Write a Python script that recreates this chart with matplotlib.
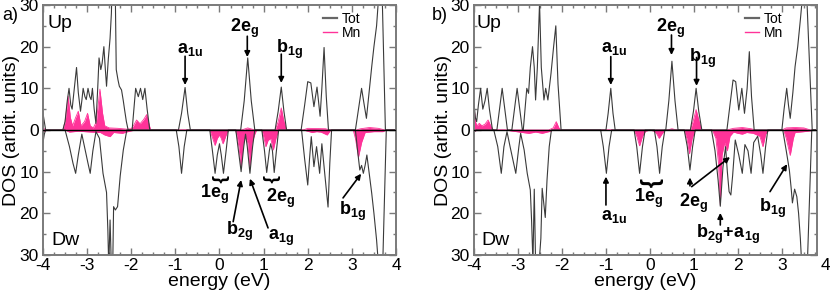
import matplotlib
matplotlib.use("Agg")
import matplotlib.pyplot as plt
from matplotlib.lines import Line2D
from matplotlib.ticker import MultipleLocator, FuncFormatter

plt.rcParams['font.family'] = ['Liberation Sans', 'DejaVu Sans']
plt.rcParams['mathtext.fontset'] = 'custom'
plt.rcParams['mathtext.rm'] = 'Liberation Sans'
plt.rcParams['mathtext.bf'] = 'Liberation Sans:bold'
plt.rcParams['mathtext.it'] = 'Liberation Sans:italic'
plt.rcParams['axes.unicode_minus'] = False

# ---- panel a) : (energy eV, DOS) ----
a_tot_up = [(-4.0, 4), (-3.97, 2), (-3.94, 0), (-3.55, 0), (-3.5, 2), (-3.45, 7), (-3.41, 10),
            (-3.37, 6), (-3.34, 5), (-3.29, 10), (-3.24, 15), (-3.2, 9), (-3.15, 4.5), (-3.12, 7),
            (-3.09, 10), (-3.05, 8), (-3.02, 7.3), (-2.98, 10), (-2.94, 8), (-2.91, 7.3), (-2.88, 10),
            (-2.84, 5), (-2.8, 1.6), (-2.76, 10), (-2.73, 17.3), (-2.69, 14.5), (-2.66, 16), (-2.62, 20),
            (-2.59, 15), (-2.56, 10.5), (-2.52, 17), (-2.48, 22), (-2.45, 28), (-2.42, 40), (-2.37, 40),
            (-2.34, 14.5), (-2.3, 12), (-2.27, 10.5), (-2.22, 9.6), (-2.18, 7), (-2.15, 4.8), (-2.11, 2),
            (-2.07, 0), (-1.98, 0), (-1.94, 5), (-1.9, 10), (-1.84, 8), (-1.79, 10), (-1.74, 7.3),
            (-1.69, 10), (-1.64, 5), (-1.58, 0), (-0.93, 0), (-0.86, 4), (-0.78, 10.2), (-0.72, 4),
            (-0.66, 0), (0.48, 0), (0.56, 7), (0.64, 17.3), (0.72, 7), (0.8, 0), (1.26, 0), (1.33, 4.5),
            (1.4, 10.3), (1.46, 4.5), (1.52, 0), (1.85, 0), (1.93, 6), (2.0, 11.6), (2.07, 11.3),
            (2.14, 5.6), (2.21, 10.3), (2.28, 3.3), (2.32, 10), (2.37, 19.8), (2.42, 8), (2.47, 0),
            (3.08, 0), (3.15, 5), (3.22, 10), (3.28, 6), (3.33, 2.8), (3.39, 9), (3.45, 15.2), (3.5, 20),
            (3.56, 25), (3.6, 31), (3.64, 40), (3.69, 31), (3.76, 0), (4.0, 0)]
a_tot_dw = [(-4.0, 3), (-3.97, 1), (-3.94, 0), (-3.5, 0), (-3.4, 4), (-3.32, 8), (-3.26, 10.4),
            (-3.2, 6), (-3.12, 1), (-3.06, 4), (-2.98, 8), (-2.93, 10.4), (-2.87, 5), (-2.8, 0.4),
            (-2.72, 2), (-2.64, 10.4), (-2.56, 15), (-2.53, 24), (-2.51, 33), (-2.48, 21.6), (-2.45, 33),
            (-2.42, 33), (-2.4, 18.4), (-2.36, 19.2), (-2.31, 18.4), (-2.25, 11), (-2.18, 4.8), (-2.1, 0),
            (-0.98, 0), (-0.92, 4), (-0.86, 10.4), (-0.8, 4), (-0.74, 0), (-0.22, 0), (-0.16, 5),
            (-0.1, 10.4), (-0.05, 6), (0.0, 3.3), (0.04, 6), (0.09, 10.4), (0.15, 5), (0.2, 0),
            (0.37, 0), (0.43, 5), (0.49, 10), (0.55, 4), (0.59, 1), (0.63, 4), (0.69, 10.4), (0.75, 4),
            (0.8, 0), (0.96, 0), (1.02, 5), (1.07, 10.2), (1.13, 5), (1.16, 3.3), (1.2, 5), (1.24, 10.2),
            (1.29, 5), (1.34, 0), (1.86, 0), (1.93, 7), (2.0, 13.2), (2.04, 7), (2.08, 1.6), (2.14, 8.8),
            (2.2, 4), (2.27, 10.4), (2.32, 3.3), (2.39, 11), (2.46, 18.5), (2.5, 8), (2.54, 0),
            (3.08, 0), (3.13, 5), (3.18, 9.6), (3.22, 8.5), (3.26, 10.4), (3.3, 8.5), (3.34, 6),
            (3.4, 11), (3.45, 15.2), (3.5, 20), (3.56, 26.4), (3.6, 32), (3.7, 32), (3.78, 0), (4.0, 0)]
a_mn_up = [(-4.0, 0.4), (-3.9, 0), (-3.55, 0), (-3.5, 2), (-3.43, 8.1), (-3.38, 3), (-3.33, 1),
           (-3.26, 3), (-3.2, 4.5), (-3.14, 1), (-3.06, 2), (-2.99, 4), (-2.93, 1), (-2.86, 0.5),
           (-2.79, 2), (-2.71, 9.8), (-2.65, 4), (-2.6, 1), (-2.5, 0.5), (-2.3, 0.4), (-2.1, 0.2),
           (-2.0, 0.3), (-1.94, 1.2), (-1.88, 2.4), (-1.8, 1.5), (-1.72, 2.5), (-1.65, 3.7), (-1.6, 1.5),
           (-1.56, 0), (0.5, 0), (0.64, 0.5), (0.8, 0), (1.26, 0), (1.33, 2), (1.4, 5.3), (1.46, 2),
           (1.52, 0), (1.9, 0), (2.0, 0.4), (2.4, 0.3), (2.5, 0), (3.1, 0), (3.2, 0.3), (3.4, 0.6),
           (3.6, 0.4), (3.75, 0), (4.0, 0)]
a_mn_dw = [(-4.0, 0.4), (-3.9, 0), (-3.5, 0), (-3.4, 0.5), (-3.2, 0.3), (-2.9, 0.5), (-2.7, 0.6),
           (-2.6, 1.2), (-2.48, 1.6), (-2.4, 0.6), (-2.2, 0.8), (-2.05, 0.3), (-1.9, 0), (-0.22, 0),
           (-0.17, 1.5), (-0.1, 3.7), (-0.05, 2), (0.0, 1.2), (0.04, 2), (0.08, 3.3), (0.14, 1.5),
           (0.2, 0), (0.36, 0), (0.4, 1.5), (0.44, 4), (0.49, 8.8), (0.54, 3), (0.59, 1.5), (0.64, 3),
           (0.69, 8.8), (0.74, 3), (0.8, 1), (0.84, 0), (0.96, 0), (1.0, 1.5), (1.05, 4), (1.1, 2.5),
           (1.16, 2), (1.22, 4.8), (1.28, 2), (1.34, 0), (1.9, 0), (2.0, 0.3), (2.1, 0.6), (2.2, 0.4),
           (2.3, 0.5), (2.44, 1.2), (2.52, 0), (3.03, 0), (3.08, 2), (3.15, 6.5), (3.22, 3), (3.3, 0.6),
           (3.5, 0.4), (3.7, 0.4), (3.78, 0), (4.0, 0)]

# ---- panel b) ----
b_tot_up = [(-4.0, 6.4), (-3.97, 3), (-3.94, 2), (-3.9, 6), (-3.85, 10), (-3.8, 5), (-3.75, 7),
            (-3.7, 10), (-3.65, 5), (-3.58, 0), (-3.48, 0), (-3.42, 5), (-3.36, 10), (-3.3, 5),
            (-3.24, 0), (-3.14, 0), (-3.08, 5), (-3.02, 10), (-2.96, 5), (-2.9, 0), (-2.88, 0),
            (-2.84, 5), (-2.8, 10), (-2.76, 8.8), (-2.72, 15), (-2.67, 20), (-2.63, 15), (-2.6, 7.2),
            (-2.56, 15), (-2.51, 30.5), (-2.47, 15), (-2.41, 7.2), (-2.37, 10), (-2.32, 7.2),
            (-2.25, 13.5), (-2.19, 20), (-2.14, 25), (-2.09, 11), (-2.02, 0), (-1.0, 0), (-0.95, 4),
            (-0.89, 10), (-0.84, 4), (-0.79, 0), (0.36, 0), (0.43, 7), (0.5, 16.5), (0.57, 7),
            (0.64, 0), (0.92, 0), (0.99, 4.5), (1.05, 10), (1.11, 4.5), (1.18, 0), (1.75, 0),
            (1.82, 6), (1.89, 12), (1.95, 11.6), (2.02, 4.8), (2.09, 10), (2.15, 4), (2.21, 10),
            (2.26, 18.8), (2.31, 8), (2.37, 0), (3.0, 0), (3.05, 5), (3.11, 10), (3.15, 6),
            (3.19, 2.8), (3.25, 9), (3.3, 15.2), (3.36, 20), (3.42, 26.4), (3.46, 31), (3.51, 40),
            (3.57, 31), (3.69, 0), (3.8, 0)]
b_tot_dw = [(-4.0, 0.5), (-3.95, 0), (-3.55, 0), (-3.46, 4), (-3.38, 10.4), (-3.32, 4), (-3.25, 0.4),
            (-3.18, 4), (-3.05, 10.4), (-2.98, 4), (-2.94, 0.8), (-2.86, 4.8), (-2.79, 10.4),
            (-2.72, 14.4), (-2.69, 22), (-2.66, 32), (-2.63, 14.2), (-2.6, 32), (-2.52, 32),
            (-2.48, 26), (-2.45, 14), (-2.41, 18), (-2.38, 21), (-2.34, 12), (-2.29, 4), (-2.24, 0),
            (-1.12, 0), (-1.06, 4), (-0.99, 10.4), (-0.93, 4), (-0.87, 0), (-0.36, 0), (-0.3, 4),
            (-0.235, 10.4), (-0.17, 4), (-0.11, 0), (0.1, 0), (0.16, 4), (0.22, 10.4), (0.28, 4),
            (0.34, 0), (0.78, 0), (0.85, 4), (0.91, 9.6), (0.97, 4), (1.03, 0), (1.4, 0), (1.48, 5),
            (1.55, 12), (1.6, 18.3), (1.66, 9), (1.72, 4), (1.76, 10), (1.8, 14.8), (1.84, 15.6),
            (1.88, 11), (1.94, 2.4), (2.02, 6), (2.1, 10.4), (2.16, 3.5), (2.23, 5), (2.3, 10.4),
            (2.36, 3), (2.45, 1.5), (2.52, 6), (2.57, 10.4), (2.63, 4), (2.68, 0), (3.02, 0),
            (3.1, 5), (3.17, 9.6), (3.21, 13.8), (3.24, 17.5), (3.29, 14.2), (3.34, 16), (3.38, 20),
            (3.42, 26), (3.45, 32), (3.58, 32), (3.68, 0), (3.8, 0)]
b_mn_up = [(-4.0, 6), (-3.97, 2), (-3.93, 1), (-3.88, 1.6), (-3.82, 1), (-3.75, 1.4), (-3.68, 2.4),
           (-3.62, 1), (-3.56, 0), (-2.3, 0), (-2.2, 0.5), (-2.13, 2), (-2.07, 0.5), (-2.02, 0),
           (0.4, 0), (0.5, 0.3), (0.6, 0), (0.92, 0), (0.98, 2), (1.05, 4.9), (1.12, 2), (1.18, 0),
           (1.75, 0), (1.9, 0.4), (2.1, 0.6), (2.3, 0.3), (2.4, 0), (3.0, 0), (3.1, 0.5), (3.3, 0.6),
           (3.5, 0.5), (3.65, 0), (3.8, 0)]
b_mn_dw = [(-4.0, 0.3), (-3.9, 0), (-3.3, 0), (-3.1, 0.3), (-2.9, 0.6), (-2.75, 0.8), (-2.6, 0.5),
           (-2.45, 0.8), (-2.3, 0.4), (-2.2, 0), (-0.36, 0), (-0.3, 1.5), (-0.235, 3.8), (-0.17, 1.5),
           (-0.1, 0.3), (0.0, 0), (0.1, 0.3), (0.16, 1), (0.21, 2), (0.27, 1), (0.34, 0), (0.78, 0),
           (0.84, 2), (0.9, 5.7), (0.96, 2), (1.03, 0), (1.42, 0), (1.5, 2), (1.56, 8), (1.6, 18),
           (1.64, 6), (1.7, 3), (1.76, 5), (1.82, 1.5), (1.9, 0.5), (2.0, 0.8), (2.1, 1), (2.2, 0.6),
           (2.35, 0.8), (2.5, 1.5), (2.57, 4), (2.63, 1), (2.7, 0), (3.04, 0), (3.1, 2), (3.19, 6.1),
           (3.26, 2), (3.3, 0.6), (3.5, 0.4), (3.65, 0.2), (3.72, 0), (3.8, 0)]

# labels: (text, x, y) ; arrows: (tail, head) ; braces: (x, y, size)
a_labels = [(r'$\mathbf{a_{1u}}$', -0.96, 18.5), (r'$\mathbf{2e_g}$', 0.24, 23.5),
            (r'$\mathbf{b_{1g}}$', 1.28, 18.5), (r'$\mathbf{1e_g}$', -0.44, -16.3),
            (r'$\mathbf{2e_g}$', 1.06, -17.3), (r'$\mathbf{b_{2g}}$', 0.15, -25.2),
            (r'$\mathbf{a_{1g}}$', 1.10, -26.4), (r'$\mathbf{b_{1g}}$', 2.71, -20.4)]
a_arrows = [((-0.78, 17.7), (-0.78, 10.8)), ((0.63, 22.5), (0.63, 17.5)), ((1.4, 18.2), (1.4, 11.3)),
            ((0.31, -22), (0.49, -12)), ((1.1, -23.5), (0.69, -11.7)), ((2.8, -16.3), (3.21, -10.5))]
a_braces = [(0.0, -11.8, 14), (1.15, -11.8, 14)]

b_labels = [(r'$\mathbf{a_{1u}}$', -1.12, 18.7), (r'$\mathbf{2e_g}$', 0.13, 23.5),
            (r'$\mathbf{b_{1g}}$', 0.89, 16.3), (r'$\mathbf{a_{1u}}$', -1.12, -21.6),
            (r'$\mathbf{1e_g}$', -0.36, -17.2), (r'$\mathbf{2e_g}$', 0.66, -18.4),
            (r'$\mathbf{b_{2g}\!+\!a_{1g}}$', 1.04, -25.9), (r'$\mathbf{b_{1g}}$', 2.48, -19.6)]
b_arrows = [((-0.89, 17.6), (-0.89, 10.8)), ((0.49, 22.8), (0.49, 18)), ((1.06, 17.4), (1.06, 10.6)),
            ((-1.0, -18), (-1.0, -11.2)), ((0.91, -13.4), (0.91, -11.4)), ((0.95, -13.6), (1.82, -6.5)),
            ((1.6, -22.8), (1.6, -19.9)), ((2.73, -14.8), (3.12, -8.2))]
b_braces = [(0.0, -12.6, 17)]

TOT_C = '#3a3a3a'
MN_C = '#ff3399'
FRAME_C = '#7a7a7a'


def draw_panel(ax, tot_up, tot_dw, mn_up, mn_dw, labels, arrows, braces, xmax, tag):
    for pts, sign in ((mn_up, 1), (mn_dw, -1)):
        e = [p[0] for p in pts]
        v = [sign * p[1] for p in pts]
        ax.fill_between(e, 0, v, color=MN_C, lw=0, zorder=1)
        ax.plot(e, v, color=MN_C, lw=0.6, zorder=1)
    for pts, sign in ((tot_up, 1), (tot_dw, -1)):
        e = [p[0] for p in pts]
        v = [sign * p[1] for p in pts]
        ax.plot(e, v, color=TOT_C, lw=0.8, zorder=2)
    ax.axhline(0, color='k', lw=1.0, zorder=3)

    ax.set_xlim(-4, xmax)
    ax.set_ylim(-30, 30)
    ax.xaxis.set_major_locator(MultipleLocator(1))
    ax.xaxis.set_minor_locator(MultipleLocator(0.25))
    ax.yaxis.set_major_locator(MultipleLocator(10))
    ax.yaxis.set_minor_locator(MultipleLocator(5))
    ax.yaxis.set_major_formatter(FuncFormatter(lambda v, p: '%d' % abs(v)))
    ax.tick_params(which='both', direction='in', top=True, right=True, color=FRAME_C,
                   labelsize=12.5, width=1.0)
    ax.tick_params(which='major', length=5)
    ax.tick_params(which='minor', length=2.5)
    ax.tick_params(axis='x', pad=2.5)
    ax.tick_params(axis='y', pad=3)
    for s in ax.spines.values():
        s.set_color(FRAME_C)
        s.set_linewidth(1.4)

    ax.set_xlabel('energy (eV)', fontsize=14)
    ax.xaxis.set_label_coords(0.5, -0.072)
    ax.set_ylabel('DOS (arbit. units)', fontsize=14)
    ax.yaxis.set_label_coords(-0.065, 0.5)

    ax.text(-3.9 if tag == 'a)' else -3.95, 24.5, 'Up', fontsize=14, va='baseline')
    ax.text(-3.8 if tag == 'a)' else -3.83, -27.6, 'Dw', fontsize=14, va='baseline')

    for txt, x, y in labels:
        ax.text(x, y, txt, fontsize=13, ha='left', va='baseline', zorder=5)
    for tail, head in arrows:
        ax.annotate('', xy=head, xytext=tail,
                    arrowprops=dict(arrowstyle='-|>', color='k', lw=1.2,
                                    mutation_scale=8, shrinkA=0, shrinkB=0), zorder=5)
    for x, y, fs in braces:
        ax.text(x, y, '}', rotation=-90, rotation_mode='anchor', fontsize=fs,
                fontweight='bold', ha='center', va='center', zorder=5)

    handles = [Line2D([], [], color='#666666', lw=1.6), Line2D([], [], color=MN_C, lw=1.0)]
    ax.legend(handles, ['Tot', 'Mn'], loc='upper right', bbox_to_anchor=(0.91, 0.985),
              frameon=False, fontsize=10, handlelength=1.0, handletextpad=0.35,
              labelspacing=0.05, borderaxespad=0, borderpad=0.2)


fig = plt.figure(figsize=(8.3, 2.94), dpi=100)
ax_a = fig.add_axes([0.0518, 0.1327, 0.4253, 0.8503])
ax_b = fig.add_axes([0.5711, 0.1327, 0.4133, 0.8503])

draw_panel(ax_a, a_tot_up, a_tot_dw, a_mn_up, a_mn_dw, a_labels, a_arrows, a_braces, 4.0, 'a)')
draw_panel(ax_b, b_tot_up, b_tot_dw, b_mn_up, b_mn_dw, b_labels, b_arrows, b_braces, 3.8, 'b)')

# panel b axis stops short of 4, the label is still there
ax_b.text(4.0, -0.012, '4', transform=ax_b.get_xaxis_transform(), fontsize=12.5,
          ha='center', va='top', clip_on=False)

fig.text(2 / 830, 1 - 20 / 294, 'a)', fontsize=13, va='baseline')
fig.text(432 / 830, 1 - 20 / 294, 'b)', fontsize=13, va='baseline')

fig.savefig('out.png', dpi=100)
